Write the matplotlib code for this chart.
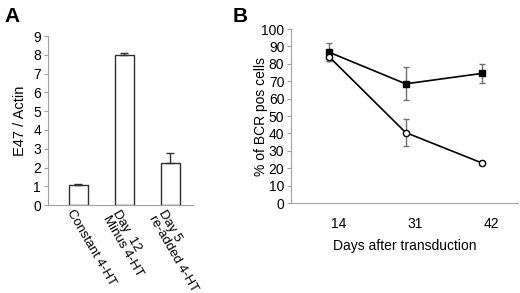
import numpy as np
import matplotlib
matplotlib.use("Agg")
import matplotlib.pyplot as plt

plt.rcParams['font.family'] = ['Liberation Sans', 'DejaVu Sans']
plt.rcParams['font.size'] = 10

# panel A data
a_labels = ["Constant 4-HT", "Day  12\nMinus 4-HT", "Day 5\nre-added 4-HT"]
a_values = [1.05, 8.0, 2.22]
a_errors = [0.05, 0.08, 0.55]

# panel B data
b_days = ["14", "31", "42"]
b_filled = [86.6, 68.5, 74.5]
b_filled_err = [5.2, 9.5, 5.3]
b_open = [83.9, 40.5, 23.0]
b_open_err = [2.0, 8.0, 1.0]

axis_grey = "#a0a0a0"
err_grey = "#707070"

fig = plt.figure(figsize=(5.2, 2.93), dpi=100)

# ---- panel A
axA = fig.add_axes([0.092, 0.300, 0.279, 0.577])
xa = np.arange(len(a_values))
axA.bar(xa, a_values, width=0.41, color="white", edgecolor="#303030", linewidth=1.0)
axA.errorbar(xa, a_values, yerr=[np.zeros(len(a_errors)), a_errors], fmt="none",
             ecolor="#303030", elinewidth=1.0, capsize=3, capthick=1.0)
axA.set_xlim(-0.66, 2.49)
axA.set_ylim(0, 9)
axA.set_yticks(range(0, 10))
axA.set_xticks(xa - 0.08)
axA.set_xticklabels(a_labels, rotation=-60, ha="left", va="top",
                    rotation_mode="anchor", linespacing=0.95, fontsize=9.5)
axA.tick_params(axis="x", length=0, pad=2)
axA.tick_params(axis="y", length=3, color=axis_grey, pad=2)
axA.set_ylabel("E47 / Actin", fontsize=10.5)
axA.yaxis.set_label_coords(-0.145, 0.5)
for s in ["top", "right"]:
    axA.spines[s].set_visible(False)
for s in ["left", "bottom"]:
    axA.spines[s].set_color(axis_grey)
fig.text(0.008, 0.975, "A", fontsize=15, fontweight="bold", va="top")

# ---- panel B
axB = fig.add_axes([0.560, 0.307, 0.436, 0.594])
xb = np.arange(len(b_days))
axB.errorbar(xb, b_filled, yerr=b_filled_err, fmt="none", ecolor=err_grey,
             elinewidth=1.0, capsize=2.5, capthick=1.0, zorder=1)
axB.errorbar(xb, b_open, yerr=b_open_err, fmt="none", ecolor=err_grey,
             elinewidth=1.0, capsize=2.5, capthick=1.0, zorder=1)
axB.plot(xb, b_filled, color="black", linewidth=1.2, marker="s", markersize=5,
         markerfacecolor="black", zorder=3)
axB.plot(xb, b_open, color="black", linewidth=1.2, marker="o", markersize=4.5,
         markerfacecolor="white", markeredgewidth=1.0, zorder=3)
axB.set_xlim(-0.5, 2.47)
axB.set_ylim(0, 100)
axB.set_yticks(range(0, 101, 10))
axB.set_xticks(xb + 0.12)
axB.set_xticklabels(b_days)
axB.tick_params(axis="x", length=0, pad=10)
axB.tick_params(axis="y", length=3, color=axis_grey, pad=2)
axB.set_xlabel("Days after transduction", labelpad=6)
axB.set_ylabel("% of BCR pos cells", fontsize=10)
axB.yaxis.set_label_coords(-0.101, 0.5)
for s in ["top", "right"]:
    axB.spines[s].set_visible(False)
for s in ["left", "bottom"]:
    axB.spines[s].set_color(axis_grey)
fig.text(0.447, 0.975, "B", fontsize=15, fontweight="bold", va="top")

fig.savefig("out.png", dpi=100)
